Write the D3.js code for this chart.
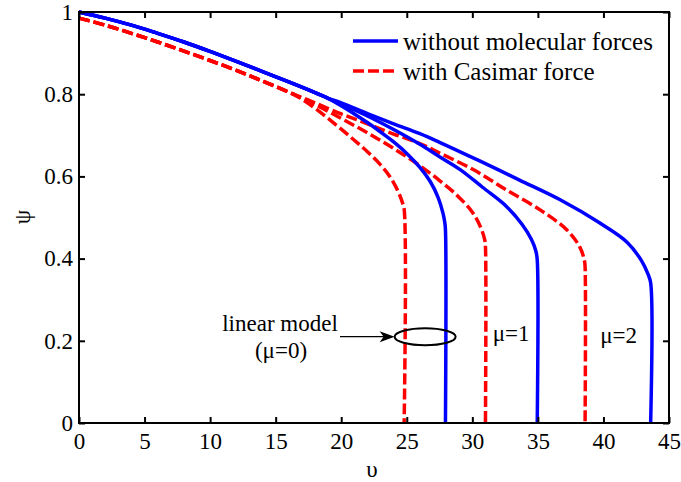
<!DOCTYPE html>
<html>
<head>
<meta charset="utf-8">
<script src="https://cdn.jsdelivr.net/npm/d3@7"></script>
<style>
  html, body { margin: 0; padding: 0; background: #fff; }
  svg { display: block; }
  text { font-family: "Liberation Serif", "Times New Roman", serif; fill: #000; }
</style>
</head>
<body>
<script>
// ---- data ----
const xTicks = [0, 5, 10, 15, 20, 25, 30, 35, 40, 45];
const yTicks = [0, 0.2, 0.4, 0.6, 0.8, 1];
const yTickLabels = ["0", "0.2", "0.4", "0.6", "0.8", "1"];

const blueCommon = [[0,1.0],[2,0.985],[4,0.968],[6,0.948],[8,0.927],[10,0.904],[12,0.88],[14,0.855],[16,0.83],[18,0.804],[19,0.79]];
const blueMu0 = [[20,0.772],[21,0.752],[22,0.731],[23,0.708],[24,0.684],[25,0.656],[26,0.622],[26.8,0.587],[27.4,0.548],[27.75,0.512],[27.9,0.488],[27.95,0.47],[27.95,0]];
const blueMu1 = [[20,0.776],[22,0.747],[24,0.714],[26,0.678],[27.5,0.648],[29.1,0.616],[30.8,0.573],[32.6,0.527],[33.8,0.483],[34.5,0.447],[34.85,0.418],[34.95,0.397],[34.95,0]];
const blueMu2 = [[20,0.779],[22,0.753],[24,0.728],[26,0.704],[27.5,0.683],[30.6,0.637],[33.6,0.591],[36.7,0.543],[39.7,0.487],[41.8,0.44],[42.9,0.395],[43.4,0.362],[43.6,0.341],[43.6,0]];

const redCommon = [[0,0.985],[2,0.968],[4,0.948],[6,0.927],[8,0.905],[10,0.882],[12,0.858],[14,0.832],[16,0.805]];
const redMu0 = [[17,0.788],[18,0.766],[19,0.741],[20,0.715],[21,0.688],[22,0.66],[23,0.628],[23.7,0.6],[24.3,0.566],[24.65,0.538],[24.8,0.52],[24.8,0]];
const redMu1 = [[17,0.79],[18,0.775],[20,0.741],[22,0.706],[24,0.668],[26,0.626],[27.5,0.59],[28.8,0.555],[30.0,0.513],[30.65,0.475],[30.95,0.445],[31.0,0.43],[31.0,0]];
const redMu2 = [[17,0.792],[18,0.779],[20,0.752],[22,0.728],[24,0.703],[26,0.68],[27.5,0.657],[30.1,0.616],[32.6,0.567],[35.2,0.518],[37.2,0.47],[38.2,0.428],[38.55,0.395],[38.6,0.38],[38.6,0]];

const legendLabels = ["without molecular forces", "with Casimar force"];
const muLabels = [{text: "μ=1", x: 31.55, y: 0.2}, {text: "μ=2", x: 39.75, y: 0.195}];
const annotation = {line1: "linear model", line2: "(μ=0)", ellipseX: 26.4, ellipseY: 0.21};

// ---- layout ----
const W = 681, H = 482;
const x = d3.scaleLinear().domain([0, 45]).range([79, 669]);
const y = d3.scaleLinear().domain([0, 1]).range([423, 12]);
const FS = 23;
const LFS = 25;

const svg = d3.select("body").append("svg").attr("width", W).attr("height", H);

// curves
const line = d3.line().x(d => x(d[0])).y(d => y(d[1])).curve(d3.curveCatmullRom.alpha(0.5));
const blueSeries = [blueCommon.concat(blueMu0), blueCommon.concat(blueMu1), blueCommon.concat(blueMu2)];
const redSeries = [redCommon.concat(redMu0), redCommon.concat(redMu1), redCommon.concat(redMu2)];

svg.append("g").selectAll("path").data(redSeries).join("path")
  .attr("d", line).attr("fill", "none").attr("stroke", "#ff0000")
  .attr("stroke-width", 3.5).attr("stroke-dasharray", "11,4");
svg.append("g").selectAll("path").data(blueSeries).join("path")
  .attr("d", line).attr("fill", "none").attr("stroke", "#0000ff")
  .attr("stroke-width", 3.5);

// axes frame
const [x0, x1] = x.range();
const [y0, y1] = y.range();
svg.append("rect").attr("x", x0).attr("y", y1).attr("width", x1 - x0).attr("height", y0 - y1)
  .attr("fill", "none").attr("stroke", "#000").attr("stroke-width", 2);

const TL = 6;
const bottomAxis = d3.axisBottom(x).tickValues(xTicks).tickSize(-TL).tickPadding(10).tickFormat(d3.format("d"));
const leftAxis = d3.axisLeft(y).tickValues(yTicks).tickSize(-TL).tickPadding(6).tickFormat((d, i) => yTickLabels[i]);
const topAxis = d3.axisTop(x).tickValues(xTicks).tickSize(-TL).tickFormat("");
const rightAxis = d3.axisRight(y).tickValues(yTicks).tickSize(-TL).tickFormat("");

function styleAxis(g) {
  g.select(".domain").remove();
  g.selectAll(".tick line").attr("stroke", "#000").attr("stroke-width", 2);
  g.selectAll(".tick text").style("font-family", "Liberation Serif, serif").style("font-size", FS + "px").attr("fill", "#000");
}
svg.append("g").attr("transform", `translate(0,${y0})`).call(bottomAxis).call(styleAxis);
svg.append("g").attr("transform", `translate(${x0},0)`).call(leftAxis).call(styleAxis);
svg.append("g").attr("transform", `translate(0,${y1})`).call(topAxis).call(styleAxis);
svg.append("g").attr("transform", `translate(${x1},0)`).call(rightAxis).call(styleAxis);

// axis labels
svg.append("text").attr("x", 372).attr("y", 477).attr("text-anchor", "middle")
  .style("font-size", FS + "px").text("υ");
svg.append("text").attr("transform", "translate(30,217) rotate(-90)").attr("text-anchor", "middle")
  .style("font-size", FS + "px").text("ψ");

// legend
const legendRows = [{label: legendLabels[0], color: "#0000ff", dash: null, yy: 41},
                    {label: legendLabels[1], color: "#ff0000", dash: "11,4", yy: 71}];
const lg = svg.append("g");
legendRows.forEach(r => {
  lg.append("line").attr("x1", 353).attr("x2", 398).attr("y1", r.yy).attr("y2", r.yy)
    .attr("stroke", r.color).attr("stroke-width", 3.5).attr("stroke-dasharray", r.dash);
  lg.append("text").attr("x", 403).attr("y", r.yy + 9).style("font-size", LFS + "px").text(r.label);
});

// mu labels
svg.append("g").selectAll("text").data(muLabels).join("text")
  .attr("x", d => x(d.x)).attr("y", d => y(d.y)).style("font-size", FS + "px").text(d => d.text);

// annotation: ellipse, arrow, text
const ex = x(annotation.ellipseX), ey = y(annotation.ellipseY);
svg.append("ellipse").attr("cx", ex).attr("cy", ey).attr("rx", 30.5).attr("ry", 8.5)
  .attr("fill", "none").attr("stroke", "#000").attr("stroke-width", 2);
const tipX = ex - 30.5;
svg.append("line").attr("x1", 340).attr("x2", tipX - 8).attr("y1", ey).attr("y2", ey)
  .attr("stroke", "#000").attr("stroke-width", 1.2);
svg.append("path")
  .attr("d", `M${tipX},${ey} L${tipX - 15},${ey - 5.5} L${tipX - 11},${ey} L${tipX - 15},${ey + 5.5} Z`)
  .attr("fill", "#000");
svg.append("text").attr("x", 280).attr("y", ey - 6).attr("text-anchor", "middle")
  .style("font-size", FS + "px").text(annotation.line1);
svg.append("text").attr("x", 281).attr("y", ey + 21).attr("text-anchor", "middle")
  .style("font-size", FS + "px").text(annotation.line2);
</script>
</body>
</html>
